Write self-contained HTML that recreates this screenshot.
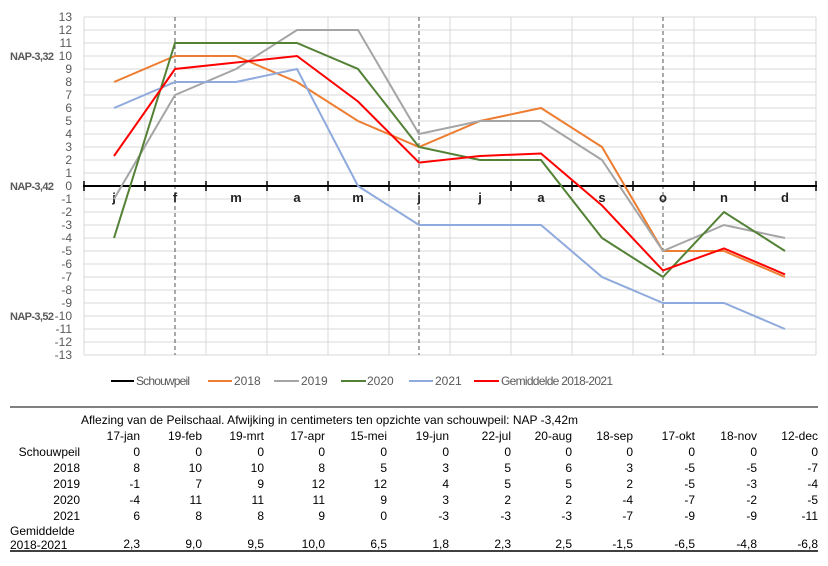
<!DOCTYPE html>
<html><head><meta charset="utf-8"><style>
body{margin:0;background:#fff;width:828px;height:566px;overflow:hidden}
svg{display:block}
text{font-family:"Liberation Sans",sans-serif}
.t{font-family:"Liberation Sans",sans-serif;font-size:12px;fill:#000}
</style></head><body>
<svg width="828" height="566" viewBox="0 0 828 566">
<g stroke="#d9d9d9" stroke-width="1">
<line x1="84" y1="17" x2="816" y2="17"/><line x1="84" y1="30" x2="816" y2="30"/><line x1="84" y1="43" x2="816" y2="43"/><line x1="84" y1="56" x2="816" y2="56"/><line x1="84" y1="69" x2="816" y2="69"/><line x1="84" y1="82" x2="816" y2="82"/><line x1="84" y1="95" x2="816" y2="95"/><line x1="84" y1="108" x2="816" y2="108"/><line x1="84" y1="121" x2="816" y2="121"/><line x1="84" y1="134" x2="816" y2="134"/><line x1="84" y1="147" x2="816" y2="147"/><line x1="84" y1="160" x2="816" y2="160"/><line x1="84" y1="173" x2="816" y2="173"/><line x1="84" y1="199" x2="816" y2="199"/><line x1="84" y1="212" x2="816" y2="212"/><line x1="84" y1="225" x2="816" y2="225"/><line x1="84" y1="238" x2="816" y2="238"/><line x1="84" y1="251" x2="816" y2="251"/><line x1="84" y1="264" x2="816" y2="264"/><line x1="84" y1="277" x2="816" y2="277"/><line x1="84" y1="290" x2="816" y2="290"/><line x1="84" y1="303" x2="816" y2="303"/><line x1="84" y1="316" x2="816" y2="316"/><line x1="84" y1="329" x2="816" y2="329"/><line x1="84" y1="342" x2="816" y2="342"/><line x1="84" y1="355" x2="816" y2="355"/>
<line x1="84" y1="17" x2="84" y2="355"/><line x1="145" y1="17" x2="145" y2="355"/><line x1="206" y1="17" x2="206" y2="355"/><line x1="267" y1="17" x2="267" y2="355"/><line x1="328" y1="17" x2="328" y2="355"/><line x1="389" y1="17" x2="389" y2="355"/><line x1="450" y1="17" x2="450" y2="355"/><line x1="511" y1="17" x2="511" y2="355"/><line x1="572" y1="17" x2="572" y2="355"/><line x1="633" y1="17" x2="633" y2="355"/><line x1="694" y1="17" x2="694" y2="355"/><line x1="755" y1="17" x2="755" y2="355"/><line x1="816" y1="17" x2="816" y2="355"/>
</g>
<g stroke="#555" stroke-dasharray="4,3" stroke-width="1">
<line x1="175" y1="17" x2="175" y2="355"/><line x1="419" y1="17" x2="419" y2="355"/><line x1="663" y1="17" x2="663" y2="355"/>
</g>
<g font-size="12" fill="#595959" text-anchor="end">
<text x="72" y="21">13</text><text x="72" y="34">12</text><text x="72" y="47">11</text><text x="72" y="60">10</text><text x="72" y="73">9</text><text x="72" y="86">8</text><text x="72" y="99">7</text><text x="72" y="112">6</text><text x="72" y="125">5</text><text x="72" y="138">4</text><text x="72" y="151">3</text><text x="72" y="164">2</text><text x="72" y="177">1</text><text x="72" y="190">0</text><text x="72" y="203">-1</text><text x="72" y="216">-2</text><text x="72" y="229">-3</text><text x="72" y="242">-4</text><text x="72" y="255">-5</text><text x="72" y="268">-6</text><text x="72" y="281">-7</text><text x="72" y="294">-8</text><text x="72" y="307">-9</text><text x="72" y="320">-10</text><text x="72" y="333">-11</text><text x="72" y="346">-12</text><text x="72" y="359">-13</text>
</g>
<g font-size="11" font-weight="bold" fill="#595959">
<text x="10" y="60" textLength="44">NAP-3,32</text><text x="10" y="190" textLength="44">NAP-3,42</text><text x="10" y="320" textLength="44">NAP-3,52</text>
</g>
<g font-size="13" font-weight="bold" fill="#222" text-anchor="middle">
<text x="114" y="202">j</text><text x="175" y="202">f</text><text x="236" y="202">m</text><text x="297" y="202">a</text><text x="358" y="202">m</text><text x="419" y="202">j</text><text x="480" y="202">j</text><text x="541" y="202">a</text><text x="602" y="202">s</text><text x="663" y="202">o</text><text x="724" y="202">n</text><text x="785" y="202">d</text>
</g>
<line x1="83" y1="186" x2="817" y2="186" stroke="#000" stroke-width="2"/>
<g stroke="#000" stroke-width="1.5"><line x1="84" y1="181" x2="84" y2="191"/><line x1="145" y1="181" x2="145" y2="191"/><line x1="206" y1="181" x2="206" y2="191"/><line x1="267" y1="181" x2="267" y2="191"/><line x1="328" y1="181" x2="328" y2="191"/><line x1="389" y1="181" x2="389" y2="191"/><line x1="450" y1="181" x2="450" y2="191"/><line x1="511" y1="181" x2="511" y2="191"/><line x1="572" y1="181" x2="572" y2="191"/><line x1="633" y1="181" x2="633" y2="191"/><line x1="694" y1="181" x2="694" y2="191"/><line x1="755" y1="181" x2="755" y2="191"/><line x1="816" y1="181" x2="816" y2="191"/></g>
<g fill="none" stroke-width="2">
<polyline stroke="#ed7d31" points="114,82 175,56 236,56 297,82 358,121 419,147 480,121 541,108 602,147 663,251 724,251 785,277"/>
<polyline stroke="#a5a5a5" points="114,199 175,95 236,69 297,30 358,30 419,134 480,121 541,121 602,160 663,251 724,225 785,238"/>
<polyline stroke="#538135" points="114,238 175,43 236,43 297,43 358,69 419,147 480,160 541,160 602,238 663,277 724,212 785,251"/>
<polyline stroke="#8faadc" points="114,108 175,82 236,82 297,69 358,186 419,225 480,225 541,225 602,277 663,303 724,303 785,329"/>
<polyline stroke="#ff0000" points="114,156 175,69 236,62.5 297,56 358,101.5 419,162.6 480,156 541,153.5 602,205.5 663,270.5 724,248.4 785,274.4"/>
</g>
<g font-size="12" fill="#595959">
<line x1="111" y1="381" x2="134" y2="381" stroke="#000" stroke-width="2"/><text x="136" y="385" textLength="54">Schouwpeil</text>
<line x1="208" y1="381" x2="232" y2="381" stroke="#ed7d31" stroke-width="2"/><text x="234" y="385">2018</text>
<line x1="274" y1="381" x2="299" y2="381" stroke="#a5a5a5" stroke-width="2"/><text x="301" y="385">2019</text>
<line x1="341" y1="381" x2="366" y2="381" stroke="#538135" stroke-width="2"/><text x="367" y="385">2020</text>
<line x1="409" y1="381" x2="433" y2="381" stroke="#8faadc" stroke-width="2"/><text x="435" y="385">2021</text>
<line x1="474" y1="381" x2="499" y2="381" stroke="#ff0000" stroke-width="2"/><text x="501" y="385" textLength="112">Gemiddelde 2018-2021</text>
</g>
<line x1="10" y1="407" x2="818" y2="407" stroke="#000" stroke-width="1"/>
<line x1="10" y1="551" x2="818" y2="551" stroke="#000" stroke-width="1.5"/>
<text class="t" x="81" y="424" textLength="497">Aflezing van de Peilschaal. Afwijking in centimeters ten opzichte van schouwpeil: NAP -3,42m</text>
<g class="t" text-anchor="end" font-size="12">
<text x="80" y="456">Schouwpeil</text><text x="80" y="472">2018</text><text x="80" y="488">2019</text><text x="80" y="504">2020</text><text x="80" y="520">2021</text>
</g>
<text class="t" x="10" y="535">Gemiddelde</text><text class="t" x="10" y="549">2018-2021</text>
<g class="t" text-anchor="end">
<text x="140" y="440">17-jan</text><text x="202" y="440">19-feb</text><text x="264" y="440">19-mrt</text><text x="325" y="440">17-apr</text><text x="387" y="440">15-mei</text><text x="449" y="440">19-jun</text><text x="511" y="440">22-jul</text><text x="572" y="440">20-aug</text><text x="633" y="440">18-sep</text><text x="695" y="440">17-okt</text><text x="757" y="440">18-nov</text><text x="818" y="440">12-dec</text>
</g>
<g class="t" text-anchor="end">
<text x="140" y="456">0</text><text x="202" y="456">0</text><text x="264" y="456">0</text><text x="325" y="456">0</text><text x="387" y="456">0</text><text x="449" y="456">0</text><text x="511" y="456">0</text><text x="572" y="456">0</text><text x="633" y="456">0</text><text x="695" y="456">0</text><text x="757" y="456">0</text><text x="818" y="456">0</text>
<text x="140" y="472">8</text><text x="202" y="472">10</text><text x="264" y="472">10</text><text x="325" y="472">8</text><text x="387" y="472">5</text><text x="449" y="472">3</text><text x="511" y="472">5</text><text x="572" y="472">6</text><text x="633" y="472">3</text><text x="695" y="472">-5</text><text x="757" y="472">-5</text><text x="818" y="472">-7</text>
<text x="140" y="488">-1</text><text x="202" y="488">7</text><text x="264" y="488">9</text><text x="325" y="488">12</text><text x="387" y="488">12</text><text x="449" y="488">4</text><text x="511" y="488">5</text><text x="572" y="488">5</text><text x="633" y="488">2</text><text x="695" y="488">-5</text><text x="757" y="488">-3</text><text x="818" y="488">-4</text>
<text x="140" y="504">-4</text><text x="202" y="504">11</text><text x="264" y="504">11</text><text x="325" y="504">11</text><text x="387" y="504">9</text><text x="449" y="504">3</text><text x="511" y="504">2</text><text x="572" y="504">2</text><text x="633" y="504">-4</text><text x="695" y="504">-7</text><text x="757" y="504">-2</text><text x="818" y="504">-5</text>
<text x="140" y="520">6</text><text x="202" y="520">8</text><text x="264" y="520">8</text><text x="325" y="520">9</text><text x="387" y="520">0</text><text x="449" y="520">-3</text><text x="511" y="520">-3</text><text x="572" y="520">-3</text><text x="633" y="520">-7</text><text x="695" y="520">-9</text><text x="757" y="520">-9</text><text x="818" y="520">-11</text>
<text x="140" y="548">2,3</text><text x="202" y="548">9,0</text><text x="264" y="548">9,5</text><text x="325" y="548">10,0</text><text x="387" y="548">6,5</text><text x="449" y="548">1,8</text><text x="511" y="548">2,3</text><text x="572" y="548">2,5</text><text x="633" y="548">-1,5</text><text x="695" y="548">-6,5</text><text x="757" y="548">-4,8</text><text x="818" y="548">-6,8</text>
</g>
</svg>
</body></html>
